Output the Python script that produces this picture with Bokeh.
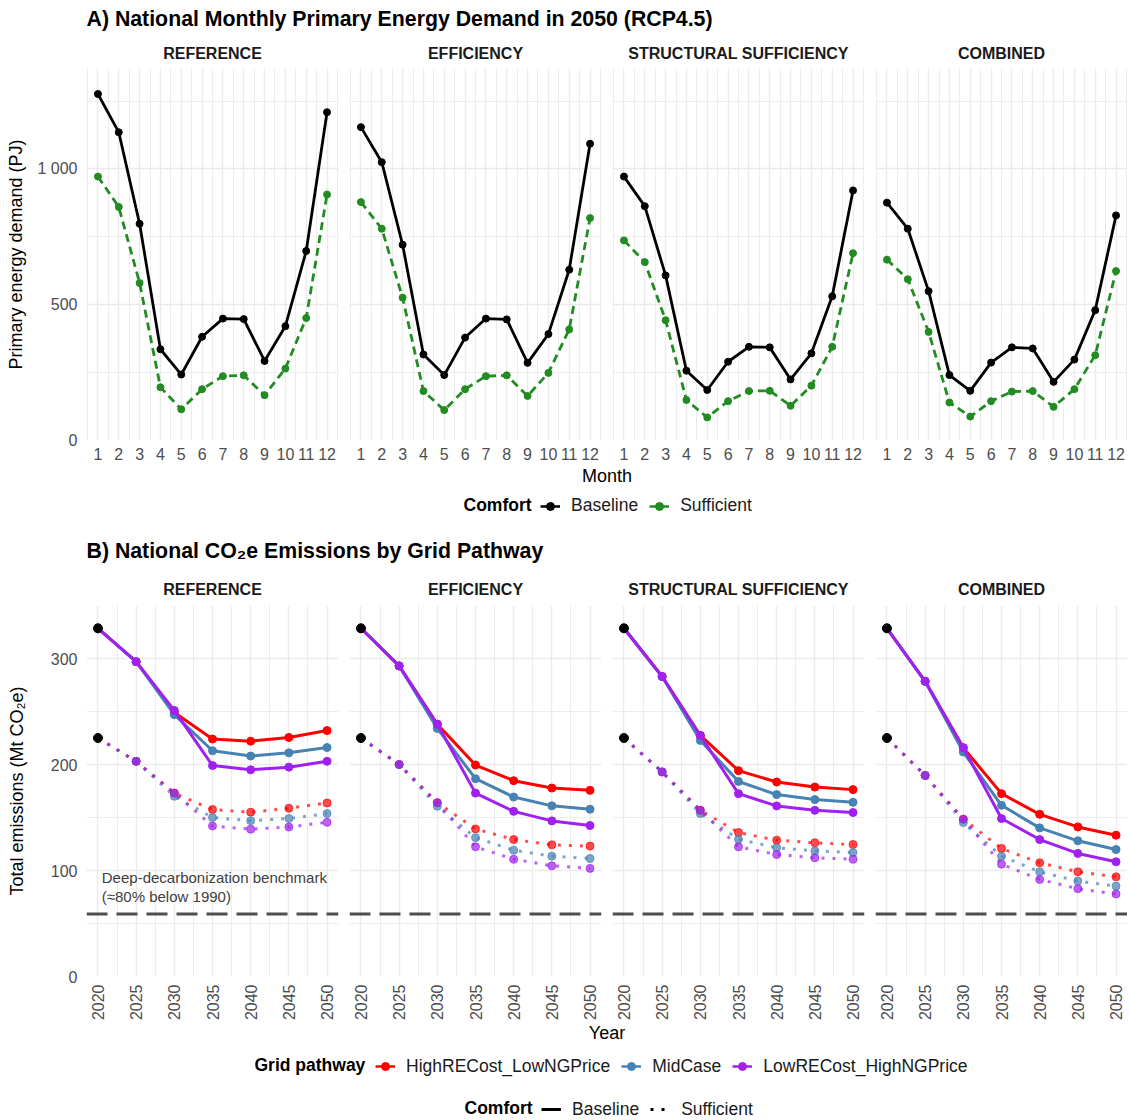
import numpy as np
from bokeh.plotting import figure
from bokeh.models import (Range1d, FixedTicker, Grid, Legend, LegendItem, Span,
                          Label, ColumnDataSource)
from bokeh.layouts import column, row
from bokeh.embed import file_html
from bokeh.resources import INLINE
from bokeh.core.properties import value

FONT = "Liberation Sans"

# ---------------- data ----------------
scenarios = ["REFERENCE", "EFFICIENCY", "STRUCTURAL SUFFICIENCY", "COMBINED"]
months = [1, 2, 3, 4, 5, 6, 7, 8, 9, 10, 11, 12]

# Panel A: monthly primary energy demand (PJ)
ref_base_pj = [1276, 1135, 798, 336, 243, 382, 449, 447, 293, 421, 698, 1209]
ref_suff_pj = [972, 860, 580, 196, 115, 189, 237, 240, 167, 265, 451, 906]
eff_base_pj = [1154, 1025, 721, 317, 241, 379, 449, 446, 286, 392, 629, 1093]
eff_suff_pj = [878, 780, 526, 182, 112, 189, 237, 240, 164, 249, 409, 819]
str_base_pj = [972, 863, 608, 257, 186, 290, 345, 343, 225, 321, 531, 921]
str_suff_pj = [737, 657, 443, 149, 85, 145, 182, 183, 128, 202, 345, 690]
com_base_pj = [876, 780, 550, 241, 183, 287, 343, 339, 216, 298, 480, 829]
com_suff_pj = [666, 594, 400, 140, 88, 145, 180, 182, 124, 189, 314, 624]

# Panel B: total emissions (Mt CO2e)
years = [2020, 2025, 2030, 2035, 2040, 2045, 2050]
pathways = ["HighRECost_LowNGPrice", "MidCase", "LowRECost_HighNGPrice"]
pathway_colors = ["#FF0000", "#4682B4", "#A020F0"]
start_2020_base = 328.5
start_2020_suff = 225
benchmark_mt = 59

ref_base_high = [328.5, 297, 249, 224, 222, 225.5, 232]
ref_base_mid = [328.5, 297, 247, 213, 208, 211, 216]
ref_base_low = [328.5, 297, 251, 199, 195, 197.5, 203]
ref_suff_high = [225, 203, 173, 157.5, 155, 158.7, 163.7]
ref_suff_mid = [225, 203, 170, 150, 147, 149, 153.7]
ref_suff_low = [225, 203, 173, 142, 139, 141, 145.5]

eff_base_high = [328.5, 293, 238, 199.5, 184.7, 177.8, 175.6]
eff_base_mid = [328.5, 293, 234, 186.6, 169.3, 161, 157.8]
eff_base_low = [328.5, 293, 238, 173, 155.8, 146.8, 142.4]
eff_suff_high = [225, 200, 164, 139.2, 129.2, 124.2, 123]
eff_suff_mid = [225, 200, 160.6, 131, 119.2, 113.5, 111.4]
eff_suff_low = [225, 200, 164, 122.3, 110.7, 104.4, 102]

str_base_high = [328.5, 283, 227.4, 194.2, 183.5, 178.7, 176.3]
str_base_mid = [328.5, 283, 222.7, 184, 171.6, 166.9, 164.3]
str_base_low = [328.5, 283, 227.4, 172.5, 160.9, 156.8, 154.7]
str_suff_high = [225, 193, 156.8, 135.8, 128.6, 126.1, 124.5]
str_suff_mid = [225, 193, 153.7, 129.5, 121.4, 118.5, 117]
str_suff_low = [225, 193, 156.8, 122.3, 115.1, 112, 110.7]

com_base_high = [328.5, 278.5, 215.8, 172.5, 153, 141.1, 133.3]
com_base_mid = [328.5, 278.5, 211.7, 161.5, 140.2, 128, 119.8]
com_base_low = [328.5, 278.5, 215.8, 149, 129.2, 116.1, 108.2]
com_suff_high = [225, 189.7, 148.4, 120.8, 107.2, 98.8, 94]
com_suff_mid = [225, 189.7, 145.2, 113.5, 98.8, 90, 85.3]
com_suff_low = [225, 189.7, 148.4, 106, 91.6, 82.8, 77.8]

energy_tables = [(ref_base_pj, ref_suff_pj), (eff_base_pj, eff_suff_pj),
                 (str_base_pj, str_suff_pj), (com_base_pj, com_suff_pj)]
emis_tables = [
    ([ref_base_high, ref_base_mid, ref_base_low], [ref_suff_high, ref_suff_mid, ref_suff_low]),
    ([eff_base_high, eff_base_mid, eff_base_low], [eff_suff_high, eff_suff_mid, eff_suff_low]),
    ([str_base_high, str_base_mid, str_base_low], [str_suff_high, str_suff_mid, str_suff_low]),
    ([com_base_high, com_base_mid, com_base_low], [com_suff_high, com_suff_mid, com_suff_low]),
]

# ---------------- layout constants ----------------
LEFT = 86
FW = 252
GAP = 11
FH = 372
TOTAL_W = LEFT + 4 * FW + 3 * GAP
GRID_COL = "#EBEBEB"
TICK_COL = "#4D4D4D"
GREEN = "#228B22"
NAN = [float("nan")]


def text_fig(h):
    f = figure(width=TOTAL_W, height=h, x_range=Range1d(0, TOTAL_W), y_range=Range1d(h, 0),
               output_backend="svg", toolbar_location=None,
               x_axis_location=None, y_axis_location=None, min_border=0)
    f.grid.visible = False
    f.outline_line_color = None
    return f


def put_text(f, x, y, s, size, bold=False, align="left", color="black"):
    f.text(x=[x], y=[y], text=[s], text_font=value(FONT), text_font_size=size,
           text_font_style="bold" if bold else "normal", text_align=align,
           text_baseline="middle", text_color=color)


def make_facet(i, xr, yr, height, bottom):
    first = i == 0
    last = i == 3
    width = FW + (LEFT if first else 0) + (0 if last else GAP)
    p = figure(width=width, height=height, x_range=xr, y_range=yr,
               output_backend="svg", toolbar_location=None,
               y_axis_location="left" if first else None,
               min_border_left=LEFT if first else 0,
               min_border_right=0 if last else GAP,
               min_border_top=0, min_border_bottom=bottom)
    p.outline_line_color = None
    p.background_fill_color = "white"
    p.grid.visible = False
    return p


def add_grids(p, xt, xm, yt, ym):
    for dim, t, m in ((0, xt, xm), (1, yt, ym)):
        g = Grid(dimension=dim, ticker=FixedTicker(ticks=t, minor_ticks=m),
                 grid_line_color=GRID_COL, grid_line_width=1.4,
                 minor_grid_line_color=GRID_COL, minor_grid_line_width=0.9)
        p.add_layout(g, "center")


def style_axes(p):
    for ax in list(p.xaxis) + list(p.yaxis):
        ax.axis_line_color = None
        ax.major_tick_line_color = None
        ax.minor_tick_line_color = None
        ax.major_tick_out = 0
        ax.major_tick_in = 0
        ax.minor_tick_out = 0
        ax.minor_tick_in = 0
        ax.major_label_text_font = FONT
        ax.major_label_text_font_size = "16px"
        ax.major_label_text_color = TICK_COL
        ax.axis_label_text_font = FONT
        ax.axis_label_text_font_size = "18px"
        ax.axis_label_text_font_style = "normal"
        ax.axis_label_text_color = "black"
        ax.major_label_standoff = 9
        ax.axis_label_standoff = 8


def style_legend(lg):
    lg.border_line_color = None
    lg.background_fill_alpha = 0
    lg.padding = 0
    lg.margin = 0
    lg.spacing = 11
    lg.label_standoff = 11
    lg.glyph_width = 20
    lg.glyph_height = 20
    lg.label_height = 20
    lg.label_text_font = FONT
    lg.label_text_font_size = "17.5px"
    lg.label_text_color = "#1A1A1A"


def strip_centers():
    return [LEFT + i * (FW + GAP) + FW / 2 for i in range(4)]


MID_X = LEFT + (4 * FW + 3 * GAP) / 2

# ---------------- Panel A ----------------
hdrA = text_fig(68)
put_text(hdrA, LEFT, 18, "A) National Monthly Primary Energy Demand in 2050 (RCP4.5)", "21.3px", bold=True)
for cx, sc in zip(strip_centers(), scenarios):
    put_text(hdrA, cx, 53, sc, "16px", bold=True, align="center", color="#1A1A1A")

rowA = []
month_minor = [m - 0.5 for m in months] + [12.5]
for i, sc in enumerate(scenarios):
    base, suff = energy_tables[i]
    p = make_facet(i, Range1d(0.45, 12.55), Range1d(0, 1370), FH + 26, 26)
    add_grids(p, months, month_minor, [0, 500, 1000], [250, 750, 1250])
    src = ColumnDataSource(dict(month=months, base=base, suff=suff))
    p.line("month", "suff", source=src, line_color=GREEN, line_width=2.8,
           line_dash="8 5", line_join="round")
    p.scatter("month", "suff", source=src, size=7, color=GREEN)
    p.line("month", "base", source=src, line_color="black", line_width=2.8, line_join="round")
    p.scatter("month", "base", source=src, size=7, color="black")
    p.xaxis.ticker = FixedTicker(ticks=months)
    if i == 0:
        p.yaxis.ticker = FixedTicker(ticks=[0, 500, 1000])
        p.yaxis.major_label_overrides = {1000: "1 000"}
        p.yaxis.axis_label = "Primary energy demand (PJ)"
    style_axes(p)
    p.xaxis.major_label_standoff = 7
    rowA.append(p)

ftrA = text_fig(54)
put_text(ftrA, MID_X, 9, "Month", "18px", align="center")
put_text(ftrA, 463, 38.5, "Comfort", "17.5px", bold=True)
la1 = ftrA.line(x=NAN, y=NAN, line_color="black", line_width=2.5)
la2 = ftrA.scatter(x=NAN, y=NAN, size=6, color="black")
la3 = ftrA.line(x=NAN, y=NAN, line_color=GREEN, line_width=2.5, line_dash="8 5")
la4 = ftrA.scatter(x=NAN, y=NAN, size=6, color=GREEN)
legA = Legend(items=[LegendItem(label="Baseline", renderers=[la1, la2]),
                     LegendItem(label="Sufficient", renderers=[la3, la4])],
              location=(540, 54 - 39 - 10 - 1), orientation="horizontal")
style_legend(legA)
ftrA.add_layout(legA, "center")

# ---------------- Panel B ----------------
hdrB = text_fig(85)
put_text(hdrB, LEFT, 30, "B) National CO\u2082e Emissions by Grid Pathway", "21.3px", bold=True)
for cx, sc in zip(strip_centers(), scenarios):
    put_text(hdrB, cx, 69, sc, "16px", bold=True, align="center", color="#1A1A1A")

rowB = []
for i, sc in enumerate(scenarios):
    base_l, suff_l = emis_tables[i]
    p = make_facet(i, Range1d(2018.5, 2051.5), Range1d(0, 350), FH + 46, 46)
    add_grids(p, years, [2022.5, 2027.5, 2032.5, 2037.5, 2042.5, 2047.5],
              [0, 100, 200, 300], [50, 150, 250, 350])
    p.add_layout(Span(location=benchmark_mt, dimension="width", line_color="#4D4D4D",
                      line_width=3, line_dash="21 9"))
    for k, col in enumerate(pathway_colors):
        src = ColumnDataSource(dict(year=years, v=suff_l[k]))
        p.line("year", "v", source=src, line_color=col, line_alpha=0.7, line_width=3,
               line_dash="3 8")
        p.scatter("year", "v", source=src, size=8, color=col, alpha=0.7)
    for k, col in enumerate(pathway_colors):
        src = ColumnDataSource(dict(year=years, v=base_l[k]))
        p.line("year", "v", source=src, line_color=col, line_width=3, line_join="round")
        p.scatter("year", "v", source=src, size=8, color=col)
    hist = ColumnDataSource(dict(year=[years[0], years[0]], v=[start_2020_base, start_2020_suff]))
    p.scatter("year", "v", source=hist, size=9, color="black")
    if i == 0:
        p.add_layout(Label(x=2020.5, y=93, text="Deep-decarbonization benchmark",
                           text_font=FONT, text_font_size="15px", text_color="#404040",
                           text_baseline="middle"))
        p.add_layout(Label(x=2020.5, y=75.5, text="(\u224880% below 1990)",
                           text_font=FONT, text_font_size="15px", text_color="#404040",
                           text_baseline="middle"))
        p.yaxis.ticker = FixedTicker(ticks=[0, 100, 200, 300])
        p.yaxis.axis_label = "Total emissions (Mt CO\u2082e)"
    p.xaxis.ticker = FixedTicker(ticks=years)
    style_axes(p)
    if i == 0:
        p.yaxis.axis_label_standoff = 21
    p.xaxis.major_label_orientation = np.pi / 2
    p.xaxis.major_label_standoff = 8
    rowB.append(p)

ftrB = text_fig(97)
put_text(ftrB, MID_X, 9, "Year", "18px", align="center")
put_text(ftrB, 254, 41.5, "Grid pathway", "17.5px", bold=True)
put_text(ftrB, 464, 84.5, "Comfort", "17.5px", bold=True)
items_g = []
for name, col in zip(pathways, pathway_colors):
    r1 = ftrB.line(x=NAN, y=NAN, line_color=col, line_width=2.5)
    r2 = ftrB.scatter(x=NAN, y=NAN, size=6, color=col)
    items_g.append(LegendItem(label=name, renderers=[r1, r2]))
legB1 = Legend(items=items_g, location=(375, 97 - 42 - 10 - 1.5), orientation="horizontal")
style_legend(legB1)
ftrB.add_layout(legB1, "center")
c1 = ftrB.line(x=NAN, y=NAN, line_color="black", line_width=3)
c2 = ftrB.line(x=NAN, y=NAN, line_color="black", line_width=3, line_dash="3 8")
legB2 = Legend(items=[LegendItem(label="Baseline", renderers=[c1]),
                      LegendItem(label="Sufficient", renderers=[c2])],
               location=(541, 97 - 85 - 10 - 1.5), orientation="horizontal")
style_legend(legB2)
ftrB.add_layout(legB2, "center")

layout = column(hdrA, row(*rowA), ftrA, hdrB, row(*rowB), ftrB)
open("out.html", "w").write(file_html(layout, INLINE))
